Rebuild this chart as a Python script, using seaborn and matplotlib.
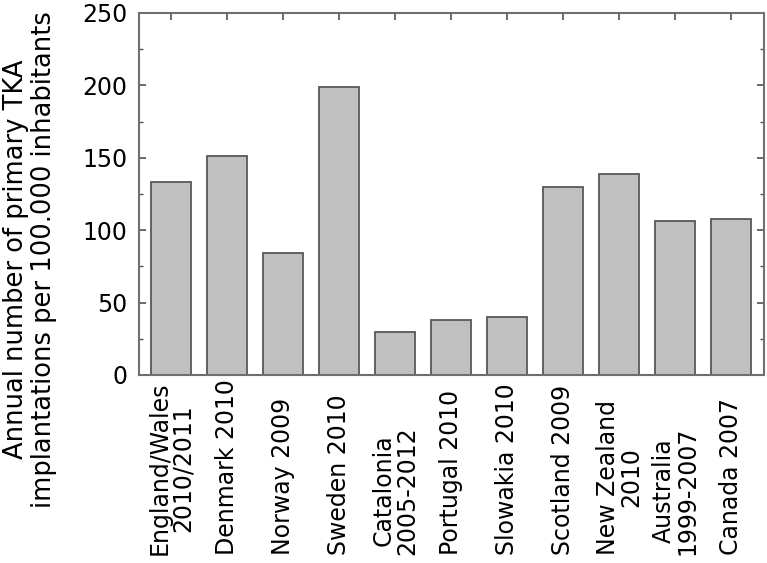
import numpy as np
import matplotlib
matplotlib.use("Agg")
import matplotlib.pyplot as plt
import matplotlib.transforms as mtransforms
from matplotlib.ticker import MultipleLocator
import seaborn as sns

# registry data
registries = ["England/Wales\n2010/2011", "Denmark 2010", "Norway 2009", "Sweden 2010",
              "Catalonia\n2005-2012", "Portugal 2010", "Slowakia 2010", "Scotland 2009",
              "New Zealand\n2010", "Australia\n1999-2007", "Canada 2007"]
tka_per_100k = [133, 151, 84, 199, 30, 38, 40, 130, 139, 106, 108]
y_ticks = [0, 50, 100, 150, 200, 250]

sns.set_theme(style="white")
plt.rcParams['font.family'] = ['DejaVu Sans']
plt.rcParams['text.color'] = 'black'
plt.rcParams['axes.labelcolor'] = 'black'
plt.rcParams['ytick.labelcolor'] = 'black'

fig = plt.figure(figsize=(7.67, 5.63), dpi=100)
ax = fig.add_axes([0.181, 0.334, 0.815, 0.643])

sns.barplot(x=registries, y=tka_per_100k, ax=ax, color="#c0c0c0", saturation=1,
            edgecolor="#585858", linewidth=1.3, width=0.714)

ax.set_xlim(-0.58, len(registries) - 0.42)
ax.set_ylim(0, 250)
ax.set_yticks(y_ticks)
ax.yaxis.set_minor_locator(MultipleLocator(25))
ax.tick_params(axis="y", which="major", labelsize=17, labelcolor="black", direction="in",
               length=5, width=1.2, color="#505050", left=True, right=True, pad=8)
ax.tick_params(axis="y", which="minor", direction="in", length=3, width=1,
               color="#505050", left=True, right=True)
ax.tick_params(axis="x", direction="in", length=5, width=1.2, color="#505050",
               top=True, bottom=True, labelbottom=False)

for sp in ax.spines.values():
    sp.set_visible(True)
    sp.set_color("#707070")
    sp.set_linewidth(1.5)

# category labels, rotated and aligned at their start (bottom)
trans = mtransforms.blended_transform_factory(ax.transData, ax.transAxes)
for i, name in enumerate(registries):
    ax.text(i, -0.497, name, transform=trans, rotation=90, ha="center", va="bottom",
            multialignment="center", fontsize=17, linespacing=0.95, color="black")

ax.set_ylabel("Annual number of primary TKA\nimplantations per 100.000 inhabitants",
              fontsize=18.5, linespacing=1.1, color="black")
ax.yaxis.set_label_coords(-0.131, 0.32)

fig.savefig("out.png", dpi=100)
